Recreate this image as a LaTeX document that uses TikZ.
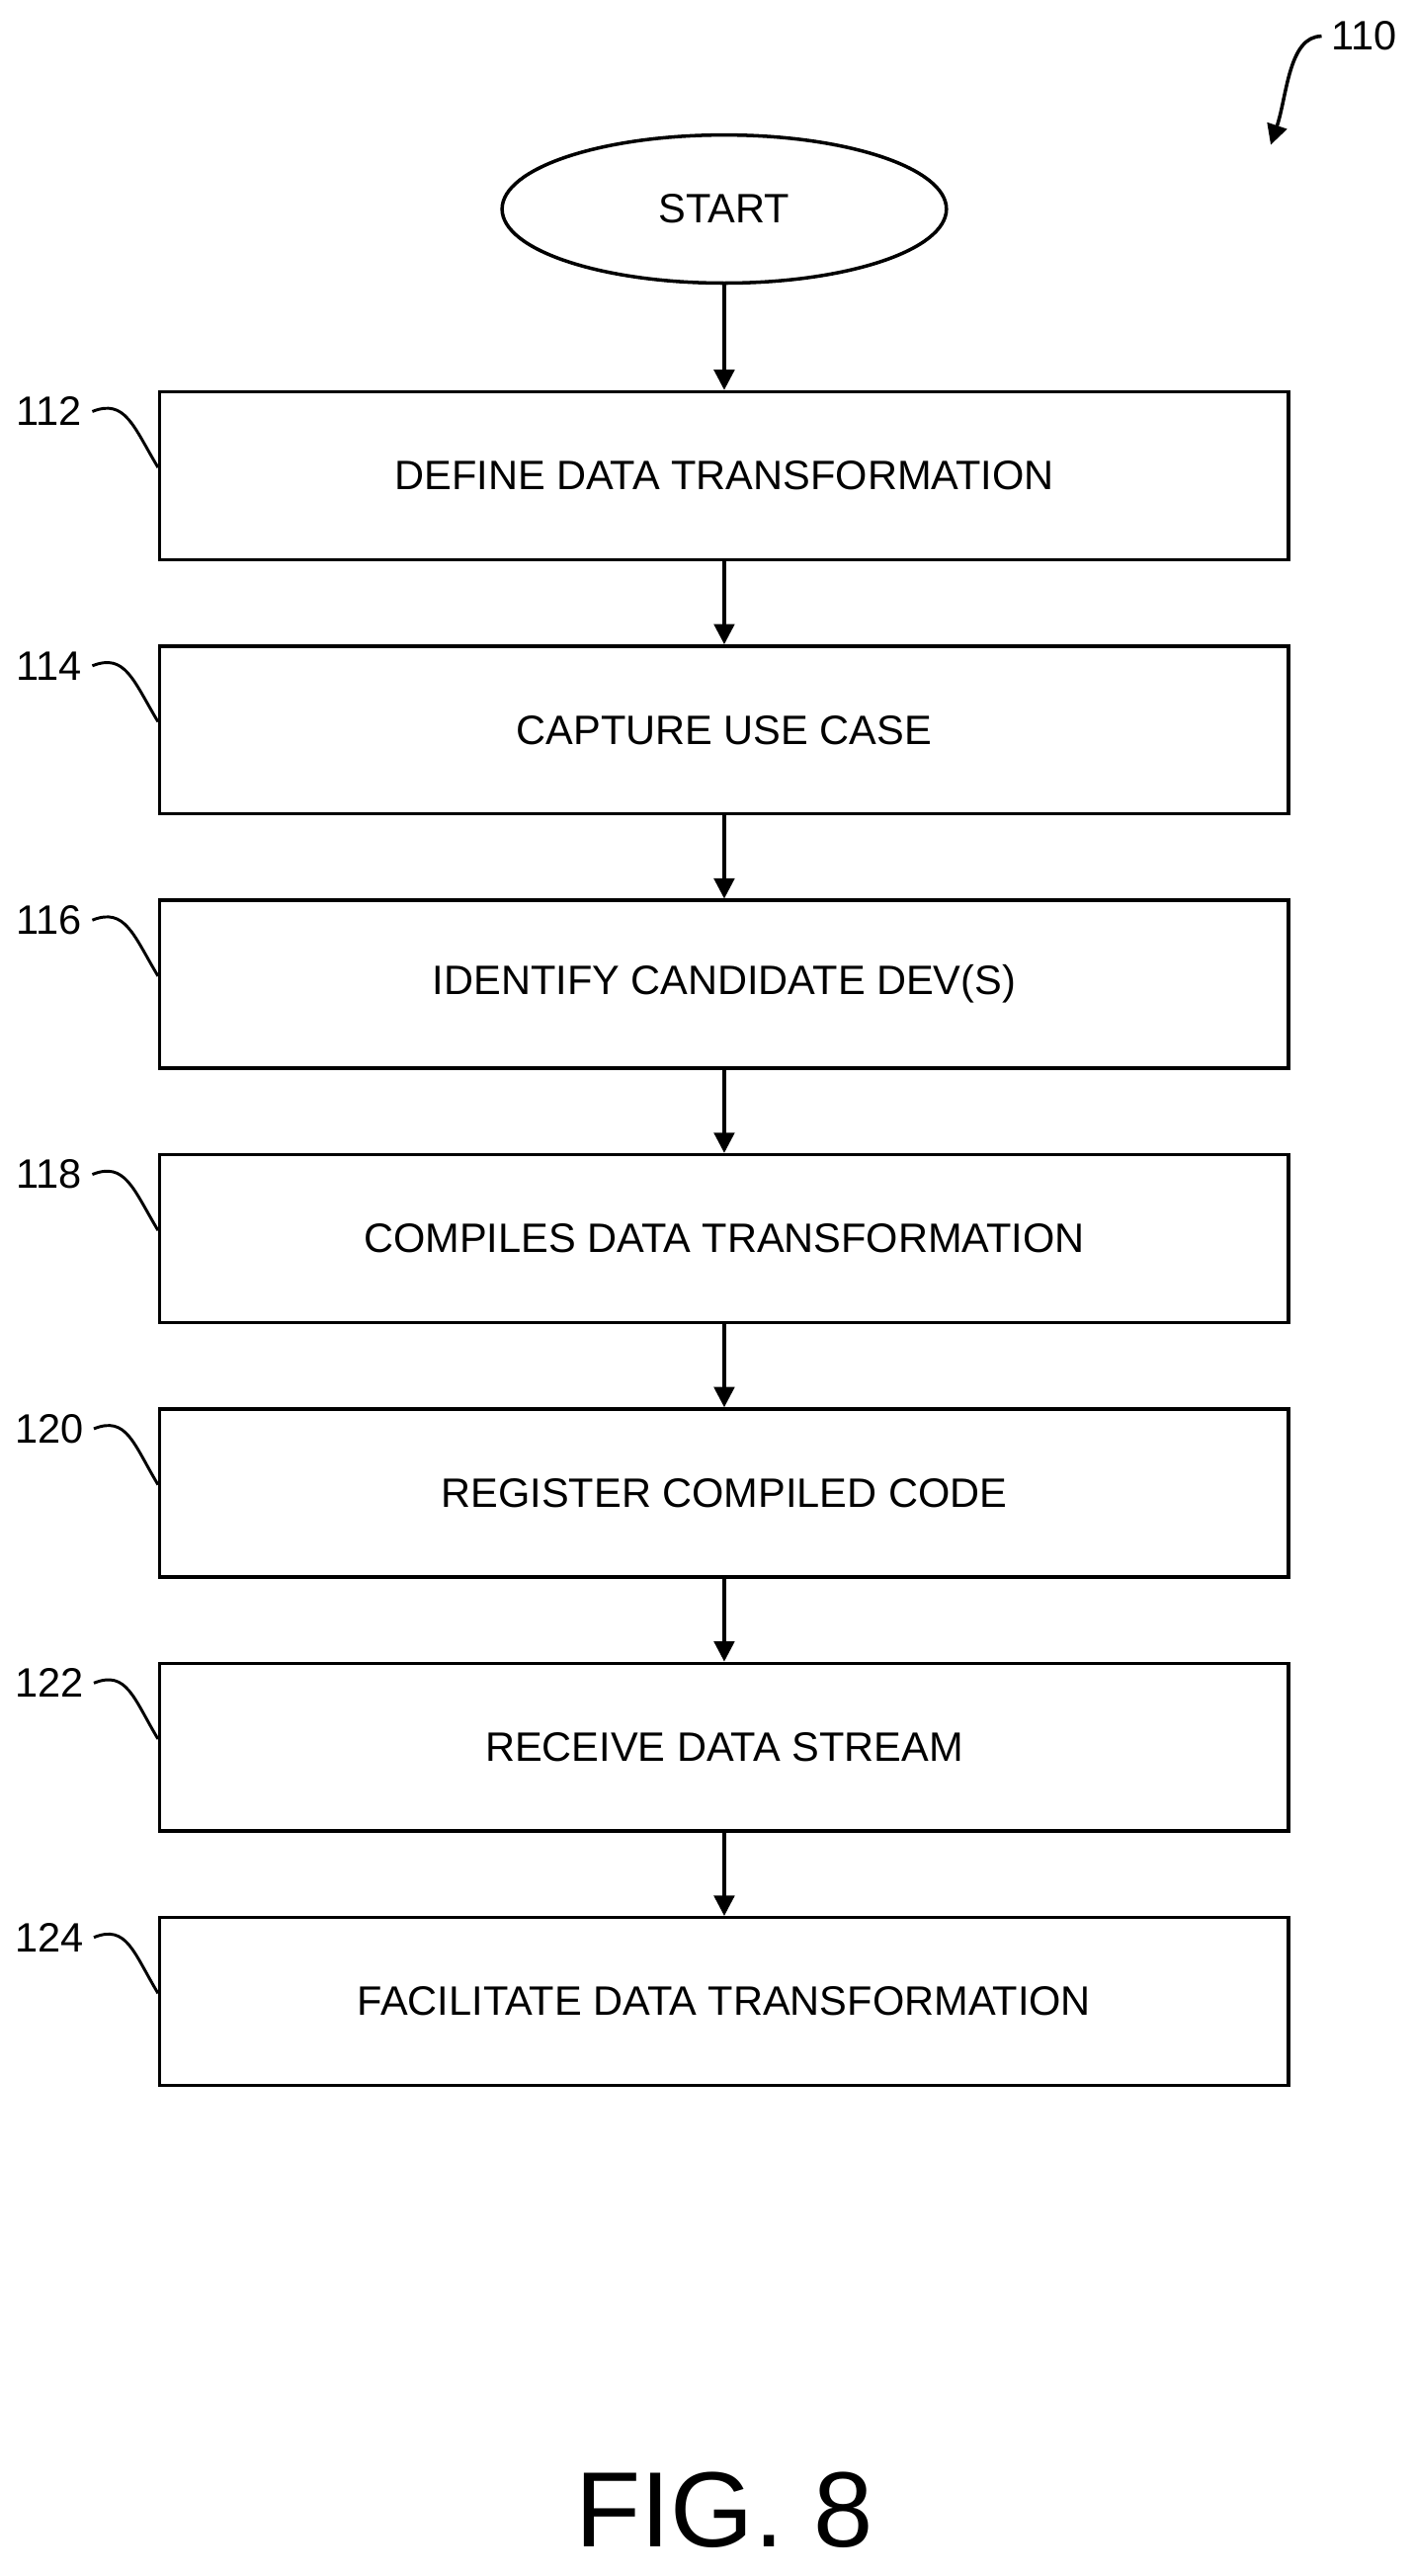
\documentclass[tikz,border=0pt]{standalone}
\usepackage{fontspec}
\setmainfont{Liberation Sans}
\usetikzlibrary{shapes.geometric,arrows.meta}
\tikzset{
  stepbox/.style={draw,line width=1.2pt,minimum width=13.72cm,minimum height=2.04cm,font=\fontsize{14.2}{17}\selectfont},
  flow/.style={-{Triangle[length=7pt,width=7pt]},line width=1.2pt},
  tag/.style={font=\fontsize{14.2}{17}\selectfont}
}
\begin{document}
\begin{tikzpicture}[x=0.02cm,y=-0.02cm]
    \useasboundingbox (0,0) rectangle (858,1565);
    \node[draw,ellipse,line width=1.2pt,minimum width=5.4cm,minimum height=1.8cm,font=\fontsize{14.2}{17}\selectfont] (start) at (440,127) {START};
    \foreach \n/\t/\r [count=\i] in {
      define/DEFINE DATA TRANSFORMATION/112,
      capture/CAPTURE USE CASE/114,
      identify/IDENTIFY CANDIDATE DEV(S)/116,
      compile/COMPILES DATA TRANSFORMATION/118,
      register/REGISTER COMPILED CODE/120,
      receive/RECEIVE DATA STREAM/122,
      facilitate/FACILITATE DATA TRANSFORMATION/124}{
    \node[stepbox] (\n) at (440,{289+154.5*(\i-1)}) {\t};
    \node[tag] (r\r) at (30,{250+154.5*(\i-1)}) {\r};
    \draw[line width=1pt] (r\r.east) .. controls +(20,-8) and +(-15,-25) .. ([yshift=0.1cm]\n.west);}
    \draw[flow] (start) -- (define);
    \draw[flow] (define) -- (capture);
    \draw[flow] (capture) -- (identify);
    \draw[flow] (identify) -- (compile);
    \draw[flow] (compile) -- (register);
    \draw[flow] (register) -- (receive);
    \draw[flow] (receive) -- (facilitate);
    % figure number
    \node[tag] (fignum) at (829,22) {110};
    \coordinate (fighead) at (772,88);
    \draw[flow] (fignum.west) .. controls +(-20,0) and +(10,-30) .. (fighead);
    \node[font=\fontsize{37}{42}\selectfont] (cap) at (440,1525) {FIG. 8};
\end{tikzpicture}
\end{document}
